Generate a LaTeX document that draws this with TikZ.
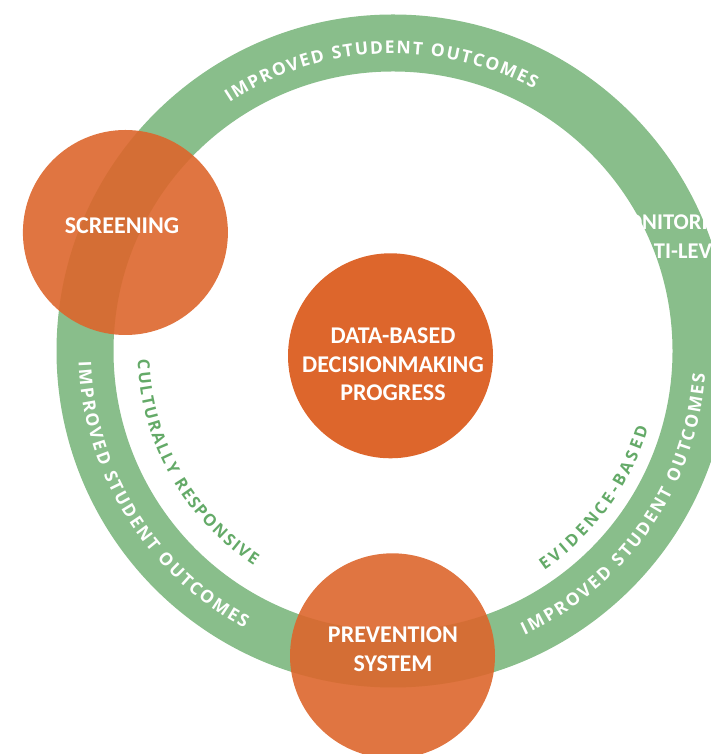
\documentclass[tikz,border=0pt]{standalone}
\usepackage{fontspec}
\setmainfont{Carlito}
\newfontfamily\ringfamily{Open Sans}
\usetikzlibrary{decorations.text}
\definecolor{ringgreen}{RGB}{137,190,139}
\definecolor{dotorange}{RGB}{221,102,44}
\definecolor{txtgreen}{RGB}{100,170,104}
\newcommand{\ringfont}{\ringfamily\bfseries\fontsize{17.5}{20}\selectfont}
\newcommand{\innerfont}{\ringfamily\bfseries\fontsize{16.5}{19}\selectfont}
\begin{document}
\begin{tikzpicture}[x=1pt,y=1pt,
  circlbl/.style={text=white, font=\bfseries\fontsize{24}{28.5}\selectfont, align=center, inner sep=0pt},
  disc/.style={circle, inner sep=0pt, minimum size=205pt, fill=dotorange},
  ringtext/.style={decorate, decoration={text along path, text align={fit to path}, text={#1}}}
]
\useasboundingbox (0,0) rectangle (711,754);
\clip (0,0) rectangle (711,754);
\coordinate (C) at (393,403);
% ring
\fill[ringgreen, even odd rule] (C) circle[radius=336.5] (C) circle[radius=279.5];
% ring texts
\path[shift={(C)}, ringtext={|\ringfont\color{white}|IMPROVED STUDENT OUTCOMES}]
  (123.3:297.5) arc[start angle=123.3, end angle=61.7, radius=297.5];
\path[shift={(C)}, ringtext={|\ringfont\color{white}|IMPROVED STUDENT OUTCOMES}]
  (182.0:314.5) arc[start angle=182.0, end angle=241.8, radius=314.5];
\path[shift={(C)}, ringtext={|\ringfont\color{white}|IMPROVED STUDENT OUTCOMES}]
  (294.8:313) arc[start angle=294.8, end angle=355.8, radius=313];
\path[shift={(C)}, ringtext={|\innerfont\color{txtgreen}|CULTURALLY RESPONSIVE}]
  (182.0:255.5) arc[start angle=182.0, end angle=237.0, radius=255.5];
\path[shift={(C)}, ringtext={|\innerfont\color{txtgreen}|EVIDENCE-BASED}]
  (304.6:266.5) arc[start angle=304.6, end angle=343.3, radius=266.5];
% discs
\node[disc] (ctr) at (390.5,398.2) {};
\node[disc, fill opacity=0.9] (scr) at (125.4,521.5) {};
\node[disc, fill opacity=0.9] (prev) at (392.5,98.2) {};
% labels
\node[circlbl] (scrtxt) at (122,528.5) {SCREENING};
\node[circlbl] (ctrtxt) at (393,389.6) {DATA-BASED\\DECISIONMAKING\\PROGRESS};
\node[circlbl] (prevtxt) at (393,105) {PREVENTION\\SYSTEM};
\node[circlbl, font=\bfseries\fontsize{22.5}{28.5}\selectfont] (montxt) at (672,517.5) {MONITORING\\MULTI-LEVEL};
\end{tikzpicture}
\end{document}
